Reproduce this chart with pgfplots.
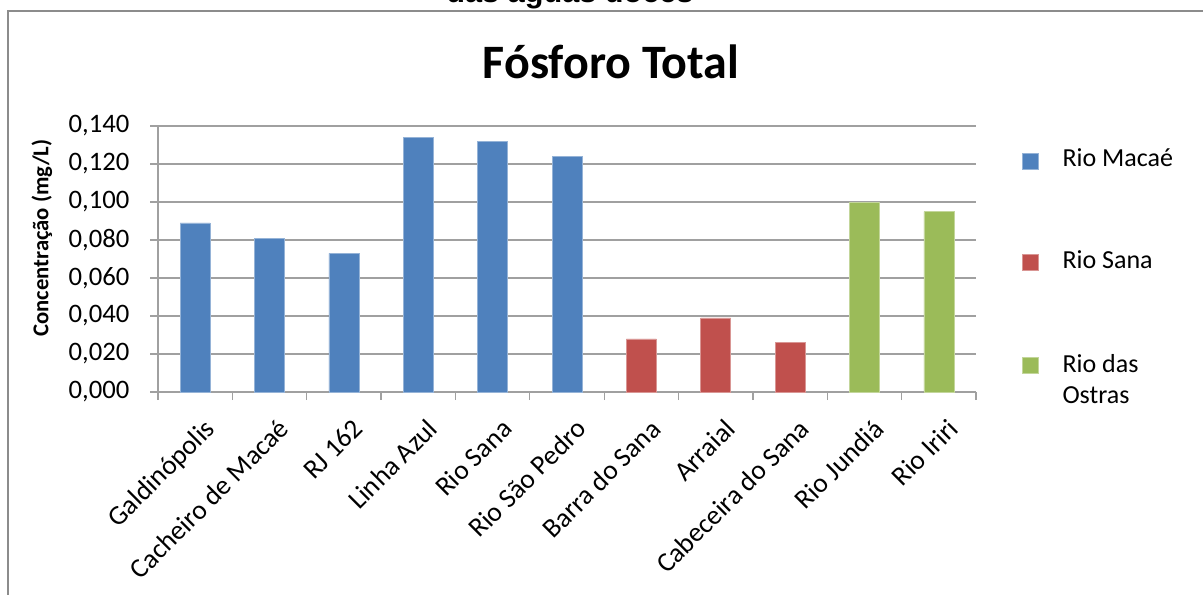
\documentclass[border=0pt]{standalone}
\usepackage{pgfplots}
\pgfplotsset{compat=1.18}
\usepackage{fontspec}
\setmainfont{Carlito}
\newfontfamily\arialfont{Liberation Sans}
\definecolor{cblue}{HTML}{4F81BD}
\definecolor{cred}{HTML}{C0504D}
\definecolor{cgreen}{HTML}{9BBB59}
\definecolor{gridc}{HTML}{A0A0A0}
\definecolor{framec}{HTML}{8C8C8C}
\begin{document}
\begin{tikzpicture}
\clip (0,0) rectangle (902.25pt,-445.5pt);
\draw[framec, line width=1.5pt] (8*0.75pt,-600*0.75pt) -- (8*0.75pt,-11*0.75pt) -- (1210*0.75pt,-11*0.75pt);
\node[anchor=base, font=\arialfont\bfseries\fontsize{23}{27}\selectfont] at (570*0.75pt,-2.5*0.75pt) {das águas doces};
\node[anchor=base, font=\bfseries\fontsize{36}{43}\selectfont] at (611*0.75pt,-78*0.75pt) {Fósforo Total};
\begin{axis}[
  at={(118.5pt,-294pt)}, anchor=south west,
  scale only axis, width=613.5pt, height=199.5pt,
  xmin=-0.5, xmax=10.5, ymin=0, ymax=0.14,
  axis x line*=bottom, axis y line*=left,
  axis line style={-, draw=gridc, line width=0.9pt},
  xtick={0,...,10},
  xticklabels={Galdinópolis,Cacheiro de Macaé,RJ 162,Linha Azul,Rio Sana,Rio São Pedro,Barra do Sana,Arraial,Cabeceira do Sana,Rio Jundiá,Rio Iriri},
  major x tick style={draw=none},
  minor xtick={-0.5,0.5,...,10.5},
  minor x tick style={draw=gridc, line width=0.9pt},
  minor tick length=6pt,
  ytick={0,0.02,...,0.141},
  major tick length=6pt,
  y tick style={draw=gridc, line width=0.9pt},
  tick align=outside,
  ymajorgrids, major grid style={draw=gridc, line width=0.9pt},
  /pgf/number format/fixed, /pgf/number format/fixed zerofill, /pgf/number format/precision=3, /pgf/number format/use comma, /pgf/number format/assume math mode=true,
  yticklabel style={font=\fontsize{20}{24}\selectfont, xshift=-12pt},
  xticklabel style={font=\fontsize{20.5}{24}\selectfont, rotate=45, anchor=north east, inner sep=2pt, xshift=-3pt, yshift=-11pt},
  every axis y label/.style={at={(axis description cs:-0.142,0.579)}, rotate=90, anchor=center, font=\bfseries\fontsize{17}{20}\selectfont},
  ylabel={Concentração (mg/L)},
  legend image code/.code={\fill[#1] (0pt,-7.5pt) rectangle (12pt,4.5pt);},
  legend style={at={(axis description cs:1.051,0.935)}, anchor=north west, draw=none, fill=none,
    font=\fontsize{19.5}{23}\selectfont, row sep=57pt, cells={anchor=west},
    /tikz/every odd column/.append style={column sep=16pt}},
  legend cell align=left,
]
\addplot[ybar, bar width=22.5pt, bar shift=0pt, fill=cblue, draw=cblue!60!white] coordinates {(0,0.089) (1,0.081) (2,0.073) (3,0.134) (4,0.132) (5,0.124)};
\addplot[ybar, bar width=22.5pt, bar shift=0pt, fill=cred, draw=cred!60!white] coordinates {(6,0.028) (7,0.039) (8,0.026)};
\addplot[ybar, bar width=22.5pt, bar shift=0pt, fill=cgreen, draw=cgreen!60!white] coordinates {(9,0.100) (10,0.095)};
\legend{Rio Macaé, Rio Sana, {\begin{tabular}[t]{@{}l@{}}Rio das\\Ostras\end{tabular}}}
\end{axis}
\end{tikzpicture}
\end{document}
